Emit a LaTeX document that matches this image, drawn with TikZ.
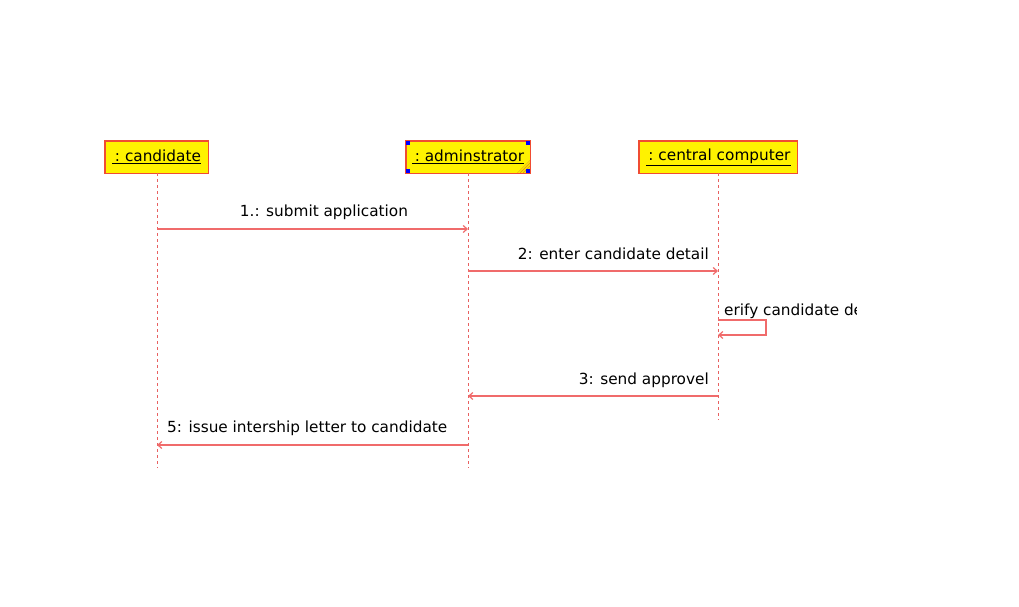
\documentclass[tikz,border=0pt]{standalone}
\usepackage{fontspec}
\setmainfont{DejaVu Sans}
\usetikzlibrary{arrows.meta}
\definecolor{boxline}{rgb}{0.94,0.30,0.20}
\definecolor{msgline}{rgb}{0.94,0.42,0.42}
\definecolor{lifeline}{rgb}{0.91,0.38,0.38}
\definecolor{hatch}{rgb}{0.90,0.60,0.10}
\begin{document}
\begin{tikzpicture}[x=1pt,y=-1pt,
  obj/.style={fill=yellow,inner sep=0pt,anchor=north west,font=\fontsize{15.3}{17}\selectfont},
  objframe/.style={draw=boxline,line width=1.2pt},
  life/.style={draw=lifeline,dash pattern=on 3pt off 3pt,line width=0.9pt},
  msg/.style={draw=msgline,line width=1.2pt,-{Straight Barb[length=4pt,width=7pt]}},
  lbl/.style={font=\fontsize{15.3}{17}\selectfont,inner sep=0pt}]
\useasboundingbox (0,0) rectangle (1019,607);
% objects
\node[obj,minimum width=103pt,minimum height=32pt] (cand) at (105,141) {\underline{\,:\ candidate}};
\node[obj,minimum width=124pt,minimum height=32pt] (admin) at (406,141) {\underline{\,:\ adminstrator}};
\node[obj,minimum width=158pt,minimum height=32pt] (cc) at (639,141) {\underline{\,:\ central computer}};
% admin hatch
\begin{scope}
  \clip (517,173) -- (530,160) -- (530,173) -- cycle;
  \foreach \d in {0,3,6,9,12,15}
    \draw[hatch,line width=0.8pt] (517+\d,173) -- (530+\d,160);
\end{scope}
\foreach \n in {cand,admin,cc}
  \draw[objframe] (\n.north west) rectangle (\n.south east);
% admin corner handles
\foreach \c/\dx/\dy in {north west/0/0,north east/-4/0,south west/0/-4,south east/-4/-4}
  \fill[blue] (admin.\c) ++(\dx,\dy) rectangle ++(4,4);
% lifelines
\coordinate (candEnd) at (157,468);
\coordinate (adminEnd) at (468,468);
\coordinate (ccEnd) at (718,420);
\draw[life] (cand.south -| candEnd) -- (candEnd);
\draw[life] (admin.south -| adminEnd) -- (adminEnd);
\draw[life] (cc.south -| ccEnd) -- (ccEnd);
% message coordinates
\coordinate (m1a) at (157,229); \coordinate (m1b) at (468,229);
\coordinate (m2a) at (468,271); \coordinate (m2b) at (718,271);
\coordinate (s1) at (718,320); \coordinate (s2) at (766,320);
\coordinate (s3) at (766,335); \coordinate (s4) at (718,335);
\coordinate (m3a) at (718,396); \coordinate (m3b) at (468,396);
\coordinate (m5a) at (468,445); \coordinate (m5b) at (157,445);
\draw[msg] (m1a) -- (m1b);
\draw[msg] (m2a) -- (m2b);
\draw[msg] (s1) -- (s2) -- (s3) -- (s4);
\draw[msg] (m3a) -- (m3b);
\draw[msg] (m5a) -- (m5b);
% labels
\node[lbl] (l1) at (324,212) {1.: submit application};
\node[lbl,anchor=east] (l2) at (709,254) {2: enter candidate detail};
\begin{scope}
  \clip (719,295) rectangle (856,325);
  \node[lbl,anchor=west] (ls) at (724,311) {erify candidate de};
\end{scope}
\node[lbl,anchor=east] (l3) at (709,380) {3: send approvel};
\node[lbl,anchor=west] (l5) at (167,428) {5: issue intership letter to candidate};
\end{tikzpicture}
\end{document}
